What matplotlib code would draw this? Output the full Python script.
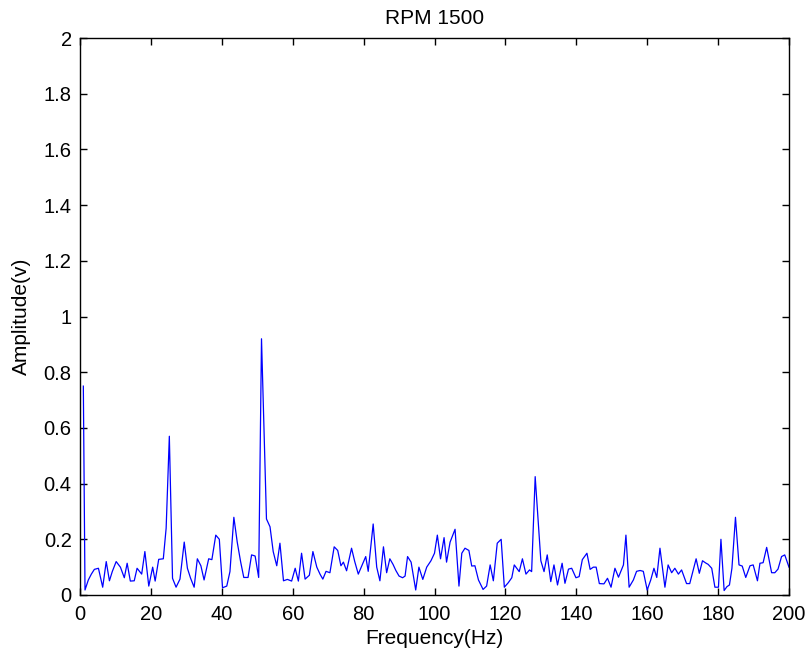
import matplotlib
matplotlib.use("Agg")
import matplotlib.pyplot as plt

# ---------------------- DATA ----------------------
freq_hz = [
    0.94, 1.41, 2.35, 3.2, 4.05, 5.2, 6.4, 7.4, 8.3, 9.1, 10.2, 11.4, 12.5, 13.3,
    14.2, 15.3, 16.1, 17.4, 18.3, 19.4, 20.5, 21.2, 22.2, 23.5, 24.3, 25.2, 26.1,
    27.1, 28.2, 29.4, 30.3, 31.2, 32.2, 33.1, 34.1, 35.0, 36.3, 37.2, 38.3, 39.3,
    40.2, 41.4, 42.3, 43.4, 44.35, 45.3, 46.2, 47.4, 48.4, 49.4, 50.4, 51.2, 52.6,
    53.6, 54.5, 55.5, 56.4, 57.4, 58.5, 59.7, 60.7, 61.6, 62.5, 63.5, 64.7, 65.7,
    66.8, 67.7, 68.5, 69.4, 70.5, 71.7, 72.7, 73.6, 74.3, 75.2, 76.6, 77.5, 78.5,
    79.5, 80.6, 81.3, 82.7, 83.7, 84.6, 85.6, 86.5, 87.4, 88.3, 89.1, 90.0, 91.0,
    91.7, 92.4, 93.4, 94.7, 95.6, 96.7, 97.8, 99.0, 100.0, 100.8, 101.7, 102.7,
    103.4, 104.4, 105.8, 106.9, 107.7, 108.6, 109.7, 110.5, 111.4, 112.4, 113.7,
    114.7, 115.7, 116.6, 117.7, 118.8, 119.7, 120.8, 121.8, 122.5, 123.9, 124.8,
    125.8, 126.8, 127.4, 128.4, 130.0, 130.9, 131.8, 132.8, 133.7, 134.7, 136.0,
    136.8, 137.8, 138.7, 139.9, 140.8, 141.7, 143.0, 143.9, 144.8, 145.6, 146.5,
    147.8, 148.8, 149.8, 150.9, 151.9, 153.3, 154.0, 154.9, 156.1, 157.0, 158.0,
    158.9, 160.0, 161.0, 161.9, 162.7, 163.6, 165.0, 165.9, 166.9, 167.8, 168.8,
    169.7, 171.1, 172.0, 172.9, 173.8, 174.7, 175.6, 176.5, 177.2, 178.2, 179.1,
    180.1, 180.8, 181.7, 182.5, 183.2, 183.9, 184.9, 185.9, 186.8, 187.8, 189.0,
    189.9, 191.1, 191.8, 192.7, 193.7, 195.1, 196.0, 196.9, 197.9, 198.8, 200.0,
]
amplitude_v = [
    0.75, 0.018, 0.054, 0.075, 0.092, 0.096, 0.028, 0.12, 0.051, 0.084, 0.12, 0.10,
    0.062, 0.114, 0.05, 0.051, 0.096, 0.075, 0.156, 0.032, 0.10, 0.05, 0.128, 0.13,
    0.24, 0.57, 0.06, 0.028, 0.057, 0.19, 0.096, 0.06, 0.028, 0.13, 0.105, 0.054,
    0.13, 0.127, 0.215, 0.2, 0.026, 0.032, 0.084, 0.279, 0.19, 0.12, 0.063, 0.063,
    0.144, 0.14, 0.063, 0.92, 0.273, 0.245, 0.156, 0.105, 0.186, 0.051, 0.056,
    0.05, 0.096, 0.05, 0.15, 0.057, 0.071, 0.156, 0.10, 0.075, 0.057, 0.085, 0.08,
    0.173, 0.16, 0.105, 0.118, 0.087, 0.168, 0.12, 0.075, 0.105, 0.138, 0.085,
    0.255, 0.10, 0.051, 0.173, 0.08, 0.13, 0.11, 0.088, 0.068, 0.062, 0.068, 0.138,
    0.118, 0.018, 0.10, 0.056, 0.10, 0.123, 0.15, 0.215, 0.13, 0.206, 0.118, 0.19,
    0.236, 0.032, 0.15, 0.168, 0.16, 0.104, 0.105, 0.054, 0.02, 0.032, 0.108,
    0.051, 0.186, 0.2, 0.028, 0.044, 0.062, 0.108, 0.084, 0.13, 0.075, 0.09, 0.084,
    0.425, 0.123, 0.084, 0.144, 0.048, 0.108, 0.036, 0.114, 0.042, 0.093, 0.096,
    0.062, 0.066, 0.127, 0.15, 0.092, 0.10, 0.10, 0.041, 0.04, 0.06, 0.028, 0.096,
    0.064, 0.108, 0.215, 0.028, 0.054, 0.085, 0.088, 0.085, 0.018, 0.054, 0.096,
    0.063, 0.168, 0.028, 0.108, 0.08, 0.096, 0.075, 0.09, 0.041, 0.041, 0.085,
    0.13, 0.078, 0.123, 0.115, 0.11, 0.096, 0.028, 0.028, 0.2, 0.016, 0.03, 0.036,
    0.096, 0.279, 0.108, 0.104, 0.063, 0.105, 0.108, 0.051, 0.114, 0.116, 0.171,
    0.08, 0.08, 0.093, 0.138, 0.144, 0.10,
]
x_ticks = [0, 20, 40, 60, 80, 100, 120, 140, 160, 180, 200]
y_ticks = [0, 0.2, 0.4, 0.6, 0.8, 1.0, 1.2, 1.4, 1.6, 1.8, 2.0]
y_tick_labels = ["0", "0.2", "0.4", "0.6", "0.8", "1", "1.2", "1.4", "1.6", "1.8", "2"]

plt.rcParams["font.family"] = ["Liberation Sans", "DejaVu Sans"]

fig = plt.figure(figsize=(8.1, 6.62), dpi=100)
ax = fig.add_axes([80 / 810, 1 - 595 / 662, 709 / 810, 557 / 662])

ax.plot(freq_hz, amplitude_v, color="#0000ff", linewidth=0.9)

ax.set_xlim(0, 200)
ax.set_ylim(0, 2)
ax.set_xticks(x_ticks)
ax.set_yticks(y_ticks)
ax.set_yticklabels(y_tick_labels)

ax.tick_params(direction="in", length=5, width=1, top=True, right=True,
               labelsize=14.5)
ax.tick_params(axis="x", pad=7)
ax.tick_params(axis="y", pad=6)
for s in ax.spines.values():
    s.set_linewidth(1.0)

ax.set_title("RPM 1500", fontsize=15, pad=10)
ax.set_xlabel("Frequency(Hz)", fontsize=15, labelpad=4)
ax.set_ylabel("Amplitude(v)", fontsize=15, labelpad=9)

fig.savefig("out.png", dpi=100)
plt.close(fig)
